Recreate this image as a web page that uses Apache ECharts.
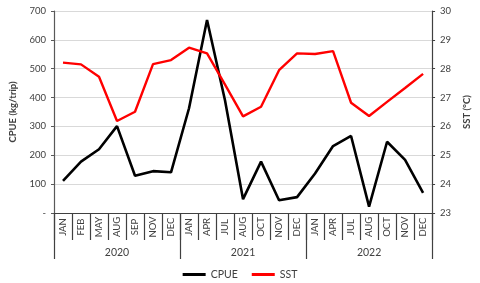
<!DOCTYPE html>
<html>
<head>
<meta charset="utf-8">
<script src="https://cdn.jsdelivr.net/npm/echarts@6/dist/echarts.min.js"></script>
<style>html,body{margin:0;padding:0;background:#fff}#c{width:480px;height:283px}</style>
</head>
<body>
<div id="c"></div>
<script>
var months = ['JAN','FEB','MAY','AUG','SEP','NOV','DEC','JAN','APR','JUL','AUG','OCT','NOV','DEC','JAN','APR','JUL','AUG','OCT','NOV','DEC'];
var years = ['2020','2021','2022'];
var cpue = [111, 178, 221, 301, 129, 145, 141, 363, 669, 390, 48, 178, 44, 55, 137, 232, 267, 22, 247, 184, 70];
var sst = [28.21, 28.15, 27.72, 26.19, 26.51, 28.16, 28.30, 28.73, 28.53, 27.45, 26.35, 26.68, 27.95, 28.53, 28.51, 28.61, 26.82, 26.36, 26.85, 27.33, 27.82];
var cpueTicks = {min: 0, max: 700, interval: 100};
var sstTicks = {min: 23, max: 30, interval: 1};

var FONT = 'Lato';
var chart = echarts.init(document.getElementById('c'));
chart.setOption({
  animation: false,
  textStyle: {fontFamily: FONT},
  grid: {left: 49, right: 39, top: 11, bottom: 70},
  legend: {
    bottom: -2, left: 'center', itemWidth: 23, itemHeight: 3, itemGap: 14,
    icon: 'rect',
    textStyle: {fontSize: 10.5, color: '#404040', fontFamily: FONT},
    data: ['CPUE', 'SST']
  },
  xAxis: [{
    type: 'category', data: months, position: 'bottom',
    axisLine: {lineStyle: {color: '#404040', width: 1.2}},
    axisTick: {show: true, interval: 0, length: 27, lineStyle: {color: '#404040', width: 1.2}},
    axisLabel: {interval: 0, rotate: 90, align: 'center', verticalAlign: 'middle', margin: 14,
      fontSize: 9.5, color: '#404040', fontFamily: FONT}
  }, {
    type: 'category', data: years, position: 'bottom', offset: 0,
    axisLine: {show: false},
    axisTick: {show: true, interval: 0, length: 46, lineStyle: {color: '#404040', width: 1.2}},
    axisLabel: {interval: 0, margin: 34, fontSize: 10.5, color: '#404040', fontFamily: FONT}
  }],
  yAxis: [{
    type: 'value', min: cpueTicks.min, max: cpueTicks.max, interval: cpueTicks.interval,
    name: 'CPUE (kg/trip)', nameLocation: 'middle', nameGap: 36, nameRotate: 90,
    nameTextStyle: {fontSize: 9.5, fontWeight: 'bold', color: '#404040', fontFamily: FONT},
    axisLine: {show: true, lineStyle: {color: '#595959', width: 1.2}},
    axisTick: {show: true, length: 3, lineStyle: {color: '#595959'}},
    axisLabel: {fontSize: 9.5, color: '#404040', margin: 8, fontFamily: FONT,
      formatter: function (v) { return v === 0 ? '-' : v; }},
    splitLine: {lineStyle: {color: '#d9d9d9', width: 1}}
  }, {
    type: 'value', min: sstTicks.min, max: sstTicks.max, interval: sstTicks.interval,
    name: 'SST (°C)', nameLocation: 'middle', nameGap: 28, nameRotate: 90,
    nameTextStyle: {fontSize: 9.5, fontWeight: 'bold', color: '#404040', fontFamily: FONT},
    axisLine: {show: true, lineStyle: {color: '#404040', width: 1.2}},
    axisTick: {show: true, length: 3, lineStyle: {color: '#404040'}},
    axisLabel: {fontSize: 9.5, color: '#404040', margin: 8, fontFamily: FONT},
    splitLine: {show: false}
  }],
  series: [{
    name: 'CPUE', type: 'line', data: cpue, xAxisIndex: 0, yAxisIndex: 0,
    showSymbol: false, symbol: 'none', color: '#000000',
    lineStyle: {color: '#000000', width: 2.6}
  }, {
    name: 'SST', type: 'line', data: sst, xAxisIndex: 0, yAxisIndex: 1,
    showSymbol: false, symbol: 'none', color: '#ff0000',
    lineStyle: {color: '#ff0000', width: 2.4}
  }]
});
</script>
</body>
</html>
